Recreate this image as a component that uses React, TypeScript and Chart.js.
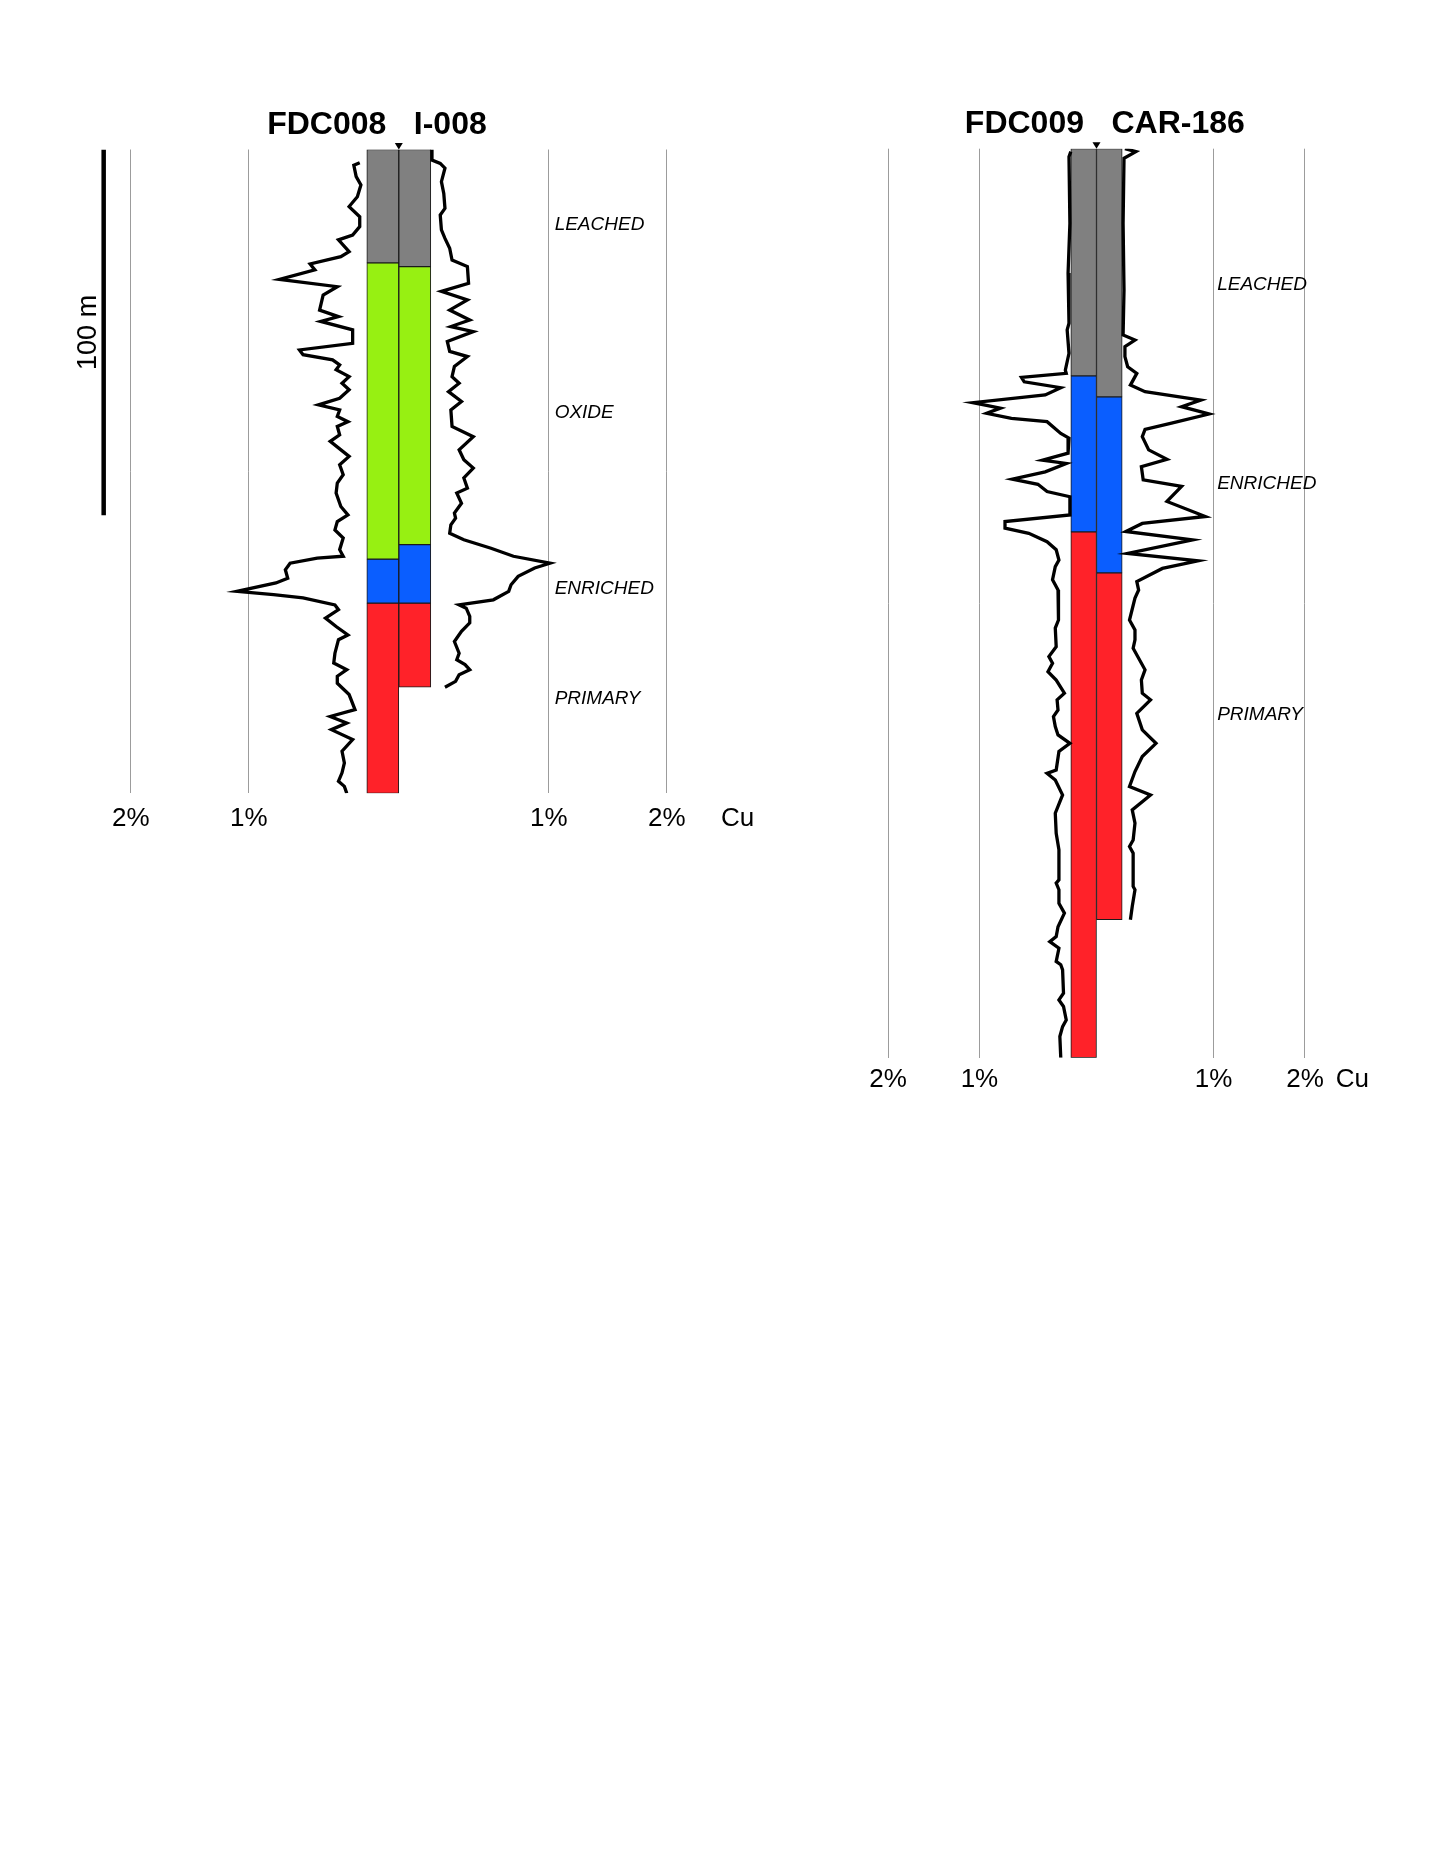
import React, { useEffect, useRef } from 'react';
import { Chart, registerables } from 'chart.js';

Chart.register(...registerables);

const FONT = "'Liberation Sans', Arial, Helvetica, sans-serif";

// ---------------- DATA ----------------
const ZONES = ['LEACHED', 'OXIDE', 'ENRICHED', 'PRIMARY'];
const ZONE_COLORS = ['#808080', '#97F012', '#0A5EFF', '#FF2229'];

const TICK_PCT = [-2, -1, 1, 2];
const TICK_LABELS = ['2%', '1%', '1%', '2%', 'Cu'];
const SCALE_BAR_M = 100;
const SCALE_BAR_LABEL = '100 m';
const COLLAR_DEPTH = 0;

// Panel 1 : FDC008 (left) / I-008 (right)
const FDC008_ZONES = ['LEACHED', 'OXIDE', 'ENRICHED', 'PRIMARY'];
const FDC008_FROM = [0, 31, 112, 124];
const FDC008_TO = [31, 112, 124, 176];
const I008_ZONES = ['LEACHED', 'OXIDE', 'ENRICHED', 'PRIMARY'];
const I008_FROM = [0, 32, 108, 124];
const I008_TO = [32, 108, 124, 147];

const FDC008_DEPTH = [3.6, 4.3, 7.4, 9.7, 12.9, 15.6, 18.4, 21.1, 23.4, 24.7, 27.9, 29.3, 31.3, 32.9, 35.5, 37.5, 39.8, 43.9, 45.7, 47.0, 49.3, 53.0, 54.8, 56.1, 57.5, 58.9, 60.2, 62.1, 63.9, 65.7, 68.0, 69.8, 71.2, 73.0, 74.4, 75.7, 78.0, 79.8, 83.9, 86.2, 88.9, 91.2, 93.9, 97.6, 99.9, 101.7, 104.0, 106.2, 109.4, 111.2, 111.7, 113.1, 114.9, 117.2, 118.5, 120.8, 121.7, 122.6, 124.5, 125.8, 128.1, 130.4, 132.7, 134.0, 137.7, 140.4, 142.2, 144.0, 145.9, 149.0, 153.1, 155.0, 156.8, 158.6, 161.3, 164.5, 167.7, 170.4, 172.7, 174.1, 176.0];
const FDC008_CU = [0.06, 0.11, 0.09, 0.05, 0.08, 0.15, 0.06, 0.06, 0.12, 0.24, 0.15, 0.22, 0.48, 0.44, 0.74, 0.25, 0.37, 0.40, 0.24, 0.39, 0.12, 0.12, 0.57, 0.54, 0.29, 0.23, 0.26, 0.15, 0.21, 0.15, 0.23, 0.41, 0.23, 0.25, 0.16, 0.25, 0.23, 0.31, 0.15, 0.23, 0.20, 0.25, 0.26, 0.22, 0.16, 0.25, 0.27, 0.20, 0.23, 0.20, 0.42, 0.65, 0.69, 0.67, 0.77, 1.10, 0.79, 0.54, 0.27, 0.24, 0.35, 0.26, 0.16, 0.24, 0.27, 0.28, 0.17, 0.25, 0.25, 0.15, 0.10, 0.31, 0.17, 0.30, 0.12, 0.21, 0.19, 0.21, 0.24, 0.19, 0.17];

const I008_DEPTH = [0, 2.9, 3.8, 5.1, 8.8, 12.0, 16.1, 17.9, 22.0, 24.3, 27.0, 30.2, 32.0, 36.6, 38.8, 41.1, 43.9, 46.6, 48.4, 49.8, 52.5, 55.2, 56.6, 59.3, 62.1, 63.9, 66.2, 68.9, 71.2, 75.7, 78.5, 82.1, 84.8, 87.1, 89.8, 92.6, 93.9, 96.7, 99.4, 100.8, 102.6, 104.9, 106.7, 109.0, 111.2, 113.1, 114.4, 116.7, 119.0, 120.8, 123.1, 124.5, 125.4, 127.6, 129.4, 131.7, 134.5, 137.7, 139.5, 140.8, 142.2, 143.6, 145.4, 147.0];
const I008_CU = [0.01, 0.01, 0.08, 0.12, 0.09, 0.11, 0.12, 0.08, 0.09, 0.12, 0.16, 0.18, 0.31, 0.32, 0.09, 0.31, 0.16, 0.33, 0.17, 0.36, 0.14, 0.16, 0.31, 0.20, 0.18, 0.24, 0.15, 0.26, 0.17, 0.18, 0.36, 0.24, 0.28, 0.36, 0.28, 0.31, 0.22, 0.26, 0.20, 0.21, 0.17, 0.16, 0.28, 0.51, 0.70, 1.01, 0.88, 0.74, 0.68, 0.66, 0.53, 0.24, 0.30, 0.33, 0.33, 0.26, 0.20, 0.24, 0.22, 0.29, 0.33, 0.24, 0.21, 0.12];

const PANEL1_LABELS = ['LEACHED', 'OXIDE', 'ENRICHED', 'PRIMARY'];
const PANEL1_LABEL_DEPTH = [20.6, 72.0, 120.1, 150.1];

// Panel 2 : FDC009 (left) / CAR-186 (right)
const FDC009_ZONES = ['LEACHED', 'ENRICHED', 'PRIMARY'];
const FDC009_FROM = [0, 62.1, 104.7];
const FDC009_TO = [62.1, 104.7, 248.4];
const CAR186_ZONES = ['LEACHED', 'ENRICHED', 'PRIMARY'];
const CAR186_FROM = [0, 67.8, 115.9];
const CAR186_TO = [67.8, 115.9, 210.7];

const FDC009_DEPTH = [0.8, 2.2, 20.4, 34.0, 47.7, 49.5, 55.9, 60.5, 61.4, 62.5, 63.7, 65.3, 67.3, 69.4, 70.9, 72.3, 73.7, 74.6, 77.8, 79.1, 83.2, 85.1, 86.0, 88.3, 90.3, 91.7, 93.7, 95.1, 100.1, 101.9, 103.7, 105.1, 107.4, 109.6, 112.4, 114.2, 117.8, 120.6, 125.1, 128.8, 131.0, 136.1, 138.8, 140.6, 142.9, 145.2, 148.8, 150.6, 153.4, 155.2, 157.9, 160.2, 162.5, 164.7, 169.8, 170.7, 172.5, 176.6, 181.6, 187.1, 191.6, 195.3, 199.8, 200.7, 202.5, 206.2, 208.9, 212.6, 215.3, 216.7, 218.5, 222.1, 223.0, 224.4, 230.8, 232.6, 234.4, 238.1, 239.9, 242.6, 248.4];
const FDC009_CU = [0.00, 0.02, 0.01, 0.03, 0.02, 0.04, 0.02, 0.06, 0.05, 0.54, 0.51, 0.11, 0.28, 1.07, 0.77, 0.92, 0.65, 0.26, 0.11, 0.02, 0.03, 0.31, 0.05, 0.28, 0.64, 0.36, 0.26, 0.01, 0.01, 0.72, 0.72, 0.46, 0.26, 0.16, 0.13, 0.17, 0.20, 0.14, 0.14, 0.13, 0.17, 0.16, 0.24, 0.20, 0.25, 0.16, 0.07, 0.15, 0.14, 0.19, 0.17, 0.14, 0.01, 0.13, 0.16, 0.26, 0.17, 0.09, 0.17, 0.16, 0.13, 0.13, 0.13, 0.16, 0.13, 0.13, 0.07, 0.14, 0.16, 0.23, 0.13, 0.16, 0.11, 0.09, 0.08, 0.13, 0.08, 0.05, 0.09, 0.12, 0.11];

const CAR186_DEPTH = [0, 0.8, 2.6, 20.4, 38.6, 50.9, 52.3, 54.1, 56.8, 59.6, 61.4, 64.6, 66.4, 68.7, 70.5, 72.5, 75.0, 76.7, 78.7, 82.3, 84.9, 86.9, 90.5, 92.3, 96.4, 100.5, 102.4, 104.6, 106.9, 110.6, 112.6, 114.7, 118.3, 120.6, 122.8, 128.8, 131.5, 134.2, 136.5, 142.4, 145.2, 148.8, 150.6, 154.3, 158.8, 162.5, 166.1, 170.2, 174.3, 176.6, 180.7, 184.3, 188.9, 190.7, 192.5, 201.6, 202.5, 207.1, 210.7];
const CAR186_CU = [0.03, 0.15, 0.02, 0.01, 0.02, 0.01, 0.14, 0.03, 0.03, 0.06, 0.16, 0.09, 0.25, 0.86, 0.65, 0.95, 0.54, 0.25, 0.22, 0.29, 0.49, 0.21, 0.23, 0.65, 0.49, 0.91, 0.22, 0.04, 0.77, 0.06, 0.83, 0.44, 0.16, 0.18, 0.14, 0.08, 0.14, 0.14, 0.12, 0.25, 0.21, 0.22, 0.31, 0.16, 0.22, 0.37, 0.22, 0.14, 0.08, 0.31, 0.11, 0.14, 0.12, 0.08, 0.12, 0.12, 0.14, 0.11, 0.09];

const PANEL2_LABELS = ['LEACHED', 'ENRICHED', 'PRIMARY'];
const PANEL2_LABEL_DEPTH = [37.2, 91.6, 154.8];

// ---------------- LAYOUT ----------------
type Hole = { name: string; zones: string[]; from: number[]; to: number[]; depth: number[]; cu: number[] };
type Geom = {
  canvasLeft: number; canvasTop: number; canvasWidth: number;
  centerX: number; pxPerPct: number; halfCol: number;
  plotTop: number; plotBottom: number; tickPad: number; cuPos: number;
};
type PanelDef = {
  left: Hole; right: Hole; maxDepth: number; labels: string[]; labelDepth: number[];
  scaleBar: boolean; geom: Geom;
};

const PANELS: PanelDef[] = [
  {
    left: { name: 'FDC008', zones: FDC008_ZONES, from: FDC008_FROM, to: FDC008_TO, depth: FDC008_DEPTH, cu: FDC008_CU },
    right: { name: 'I-008', zones: I008_ZONES, from: I008_FROM, to: I008_TO, depth: I008_DEPTH, cu: I008_CU },
    maxDepth: 176,
    labels: PANEL1_LABELS,
    labelDepth: PANEL1_LABEL_DEPTH,
    scaleBar: true,
    geom: { canvasLeft: 20, canvasTop: 60, canvasWidth: 760, centerX: 398.8, pxPerPct: 118.05, halfCol: 0.271, plotTop: 149.5, plotBottom: 793.3, tickPad: 10.3, cuPos: 2.87 },
  },
  {
    left: { name: 'FDC009', zones: FDC009_ZONES, from: FDC009_FROM, to: FDC009_TO, depth: FDC009_DEPTH, cu: FDC009_CU },
    right: { name: 'CAR-186', zones: CAR186_ZONES, from: CAR186_FROM, to: CAR186_TO, depth: CAR186_DEPTH, cu: CAR186_CU },
    maxDepth: 248.4,
    labels: PANEL2_LABELS,
    labelDepth: PANEL2_LABEL_DEPTH,
    scaleBar: false,
    geom: { canvasLeft: 800, canvasTop: 60, canvasWidth: 600, centerX: 1096.5, pxPerPct: 91.4, halfCol: 0.281, plotTop: 148.7, plotBottom: 1057.7, tickPad: 6.7, cuPos: 2.8 },
  },
];

const TICK_FONT_SIZE = 26;
const LABEL_POS = 1.32;
const SCALE_BAR_POS = -2.5;
const SCALE_LABEL_POS = -2.63;

function axisHeightOf(g: Geom) {
  // Chart.js: label line height + padding on both sides (no tick marks)
  return TICK_FONT_SIZE * 1.2 + 2 * g.tickPad;
}

function canvasHeightOf(g: Geom) {
  return Math.ceil(g.plotBottom + axisHeightOf(g) - g.canvasTop);
}

function buildConfig(p: PanelDef): any {
  const g = p.geom;
  const h = g.halfCol;
  const xMin = (g.canvasLeft - g.centerX) / g.pxPerPct;
  const xMax = (g.canvasLeft + g.canvasWidth - g.centerX) / g.pxPerPct;
  const cH = canvasHeightOf(g);
  const padBottom = cH - (g.plotBottom + axisHeightOf(g) - g.canvasTop);
  const tickValues = [...TICK_PCT.map((v) => v + Math.sign(v) * h), g.cuPos];

  const zoneSets = ZONES.map((z, zi) => {
    const data: any[] = [];
    const iL = p.left.zones.indexOf(z);
    if (iL >= 0) data.push({ x: -h / 2, y: [p.left.from[iL], p.left.to[iL]] });
    const iR = p.right.zones.indexOf(z);
    if (iR >= 0) data.push({ x: h / 2, y: [p.right.from[iR], p.right.to[iR]] });
    return {
      type: 'bar',
      label: z,
      data,
      backgroundColor: ZONE_COLORS[zi],
      borderColor: '#1a1a1a',
      borderWidth: 1,
      borderSkipped: false,
      grouped: false,
      categoryPercentage: 1,
      barPercentage: 1,
      order: 3,
    };
  }).filter((d) => d.data.length > 0);

  const curve = (hole: Hole, side: number) => ({
    type: 'line',
    label: hole.name + ' Cu',
    data: hole.depth.map((d, i) => ({ x: side * (hole.cu[i] + h), y: d })),
    borderColor: '#000',
    borderWidth: 3.3,
    pointRadius: 0,
    tension: 0,
    fill: false,
    borderJoinStyle: 'miter',
    order: 1,
  });

  const datasets: any[] = [...zoneSets, curve(p.left, -1), curve(p.right, 1)];
  if (p.scaleBar) {
    datasets.push({
      type: 'line',
      label: 'scale',
      data: [{ x: SCALE_BAR_POS, y: 0 }, { x: SCALE_BAR_POS, y: SCALE_BAR_M }],
      borderColor: '#000',
      borderWidth: 4.5,
      pointRadius: 0,
      order: 1,
    });
  }

  const overlay = {
    id: 'overlay',
    afterDatasetsDraw(chart: any) {
      const { ctx } = chart;
      const x = chart.scales.x;
      const y = chart.scales.y;
      const cx = x.getPixelForValue(0);
      const top = y.getPixelForValue(COLLAR_DEPTH);
      ctx.save();
      // titles
      ctx.fillStyle = '#000';
      ctx.font = `bold 32px ${FONT}`;
      ctx.textBaseline = 'alphabetic';
      ctx.textAlign = 'right';
      ctx.fillText(p.left.name, cx - 12.5, top - 16);
      ctx.textAlign = 'left';
      ctx.fillText(p.right.name, cx + 15, top - 16);
      // collar marker
      ctx.beginPath();
      ctx.moveTo(cx, top);
      ctx.lineTo(cx - 4, top - 6.5);
      ctx.lineTo(cx + 4, top - 6.5);
      ctx.closePath();
      ctx.fill();
      // zone labels
      ctx.font = `italic 19px ${FONT}`;
      ctx.textAlign = 'left';
      ctx.textBaseline = 'middle';
      p.labels.forEach((lab, i) => {
        ctx.fillText(lab, x.getPixelForValue(LABEL_POS), y.getPixelForValue(p.labelDepth[i]));
      });
      // scale bar label
      if (p.scaleBar) {
        ctx.save();
        ctx.translate(x.getPixelForValue(SCALE_LABEL_POS), y.getPixelForValue(SCALE_BAR_M / 2));
        ctx.rotate(-Math.PI / 2);
        ctx.font = `27px ${FONT}`;
        ctx.textAlign = 'center';
        ctx.textBaseline = 'middle';
        ctx.fillText(SCALE_BAR_LABEL, 0, 0);
        ctx.restore();
      }
      ctx.restore();
    },
  };

  return {
    type: 'line',
    data: { datasets },
    plugins: [overlay],
    options: {
      animation: false,
      responsive: false,
      maintainAspectRatio: false,
      devicePixelRatio: 1,
      events: [],
      layout: { padding: { top: g.plotTop - g.canvasTop, bottom: padBottom, left: 0, right: 0 } },
      plugins: { legend: { display: false }, tooltip: { enabled: false }, title: { display: false } },
      scales: {
        x: {
          type: 'linear',
          position: 'bottom',
          min: xMin,
          max: xMax,
          bounds: 'data',
          offset: false,
          grid: {
            offset: false,
            drawTicks: false,
            lineWidth: 1,
            color: (c: any) => (c.index === TICK_LABELS.length - 1 ? 'rgba(0,0,0,0)' : '#9c9c9c'),
          },
          border: { display: false },
          afterBuildTicks: (axis: any) => {
            axis.ticks = tickValues.map((v) => ({ value: v }));
          },
          ticks: {
            autoSkip: false,
            maxRotation: 0,
            minRotation: 0,
            padding: g.tickPad,
            color: '#000',
            font: { size: TICK_FONT_SIZE, family: FONT },
            callback: (_v: any, i: number) => TICK_LABELS[i],
          },
        },
        y: {
          type: 'linear',
          display: false,
          reverse: true,
          min: 0,
          max: p.maxDepth,
        },
      },
    },
  };
}

function Panel({ panel }: { panel: PanelDef }) {
  const ref = useRef<HTMLCanvasElement>(null);
  const g = panel.geom;
  const cH = canvasHeightOf(g);
  useEffect(() => {
    if (!ref.current) return;
    const chart = new Chart(ref.current, buildConfig(panel));
    return () => chart.destroy();
  }, [panel]);
  return (
    <canvas
      ref={ref}
      width={g.canvasWidth}
      height={cH}
      style={{ position: 'absolute', left: g.canvasLeft, top: g.canvasTop, width: g.canvasWidth, height: cH }}
    />
  );
}

export default function App() {
  Chart.defaults.font.family = FONT;
  return (
    <div style={{ position: 'absolute', left: 0, top: 0, width: 1431, height: 1852, background: '#fff', overflow: 'hidden' }}>
      {PANELS.map((p, i) => (
        <Panel key={i} panel={p} />
      ))}
    </div>
  );
}
